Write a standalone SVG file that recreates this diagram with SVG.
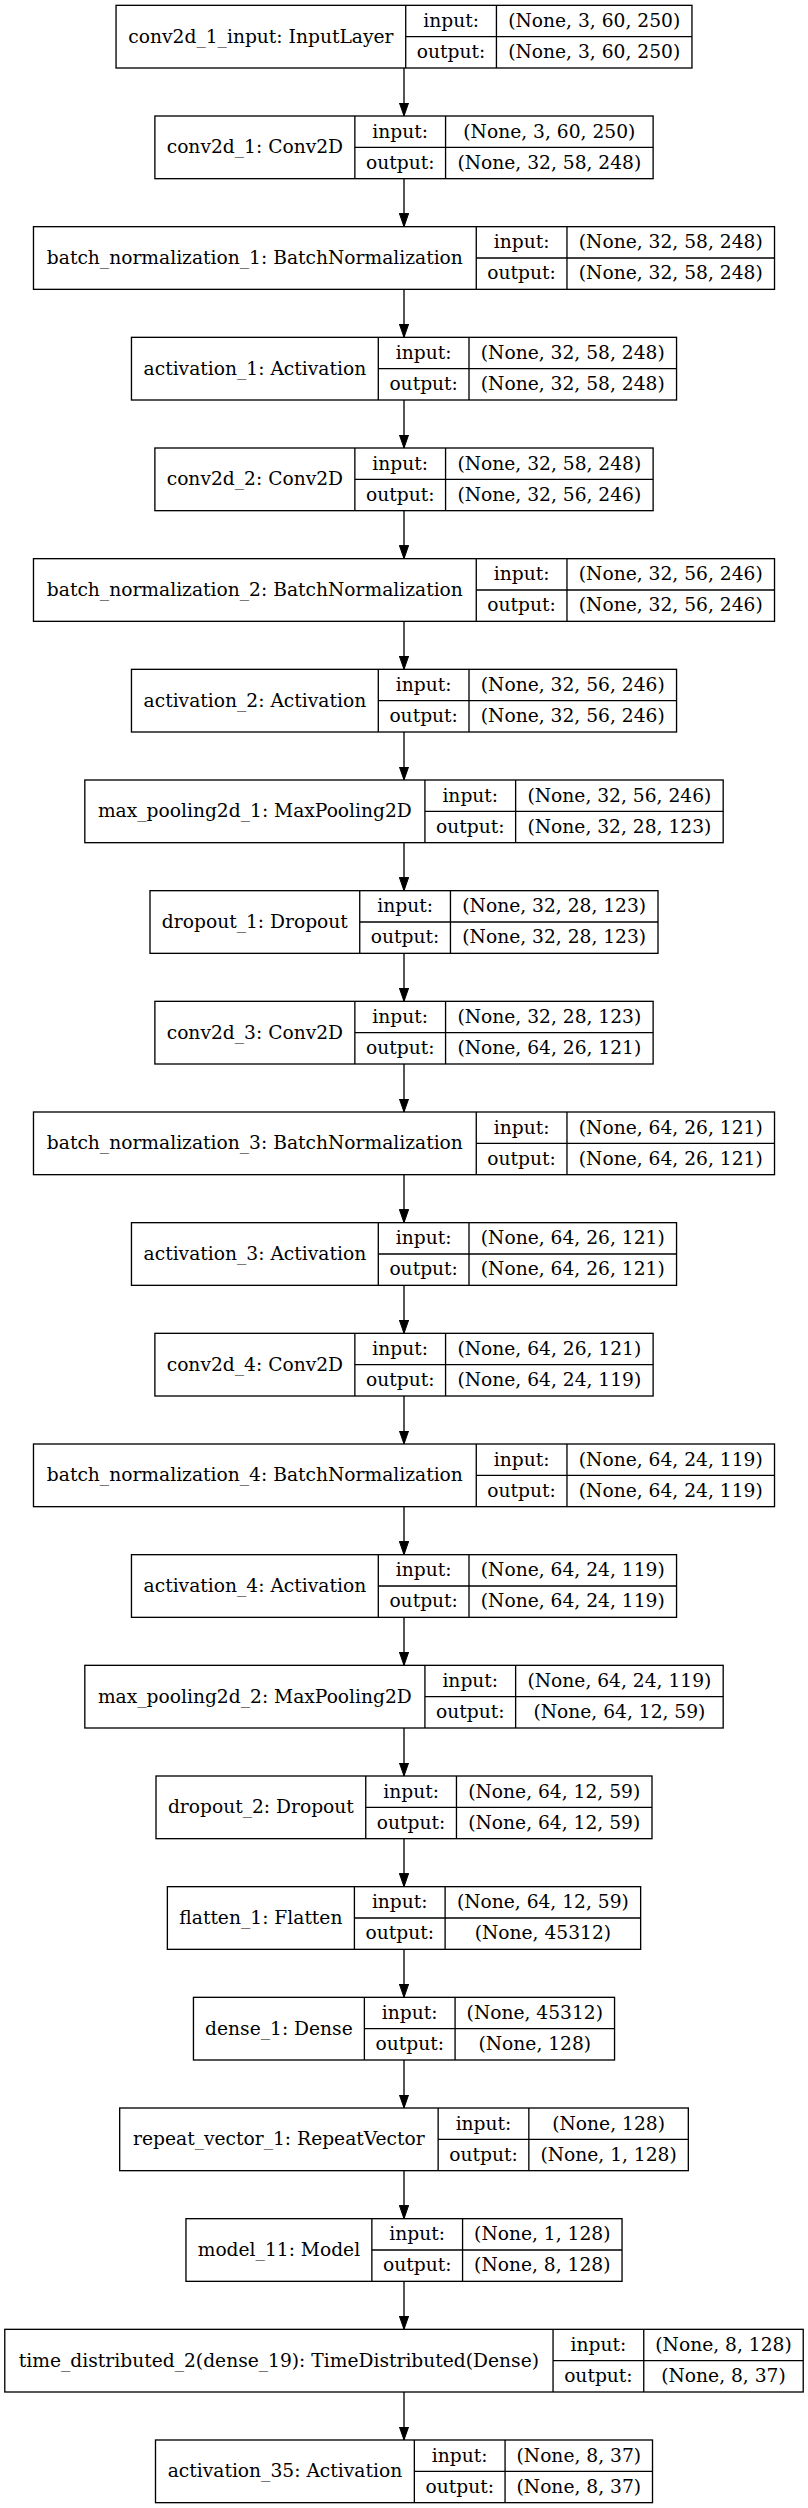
<svg xmlns="http://www.w3.org/2000/svg" width="808" height="2508" viewBox="0 0 808 2508">
<style>
.n rect{fill:#fff;stroke:#000;stroke-width:1.33}
.n line{stroke:#000;stroke-width:1.33}
.n text{font-family:"DejaVu Serif",serif;font-size:18.67px;fill:#000;text-anchor:middle}
.n .l{transform:translateY(-0.8px)}
.e{stroke:#000;stroke-width:1.33;fill:none;marker-end:url(#ah)}
</style>
<defs>
<marker id="ah" markerUnits="userSpaceOnUse" markerWidth="14" markerHeight="10" viewBox="0 0 14 10" refX="13.33" refY="4.67" orient="auto">
<path d="M0,0 L13.33,4.67 L0,9.33 z" fill="#000" stroke="#000" stroke-width="1"/>
</marker>
</defs>
<rect width="808" height="2508" fill="#fff"/>
<g id="edges">
<path class="e" d="M404,68 V116"/>
<path class="e" d="M404,178.67 V226.67"/>
<path class="e" d="M404,289.33 V337.33"/>
<path class="e" d="M404,400 V448"/>
<path class="e" d="M404,510.67 V558.67"/>
<path class="e" d="M404,621.33 V669.33"/>
<path class="e" d="M404,732 V780"/>
<path class="e" d="M404,842.67 V890.67"/>
<path class="e" d="M404,953.33 V1001.33"/>
<path class="e" d="M404,1064 V1112"/>
<path class="e" d="M404,1174.67 V1222.67"/>
<path class="e" d="M404,1285.33 V1333.33"/>
<path class="e" d="M404,1396 V1444"/>
<path class="e" d="M404,1506.67 V1554.67"/>
<path class="e" d="M404,1617.33 V1665.33"/>
<path class="e" d="M404,1728 V1776"/>
<path class="e" d="M404,1838.67 V1886.67"/>
<path class="e" d="M404,1949.33 V1997.33"/>
<path class="e" d="M404,2060 V2108"/>
<path class="e" d="M404,2170.67 V2218.67"/>
<path class="e" d="M404,2281.33 V2329.33"/>
<path class="e" d="M404,2392 V2440"/>
</g>

<g id="conv2d_1_input" class="n" transform="translate(0,5.33)">
<rect x="116.05" y="0" width="575.91" height="62.67"/>
<line x1="405.72" y1="0" x2="405.72" y2="62.67"/><line x1="496.43" y1="0" x2="496.43" y2="62.67"/><line x1="405.72" y1="31.33" x2="691.96" y2="31.33"/>
<text x="260.89" y="37.2">conv2d_1_input: InputLayer</text>
<text x="451.08" y="21.5">input:</text><text x="451.08" y="52.8">output:</text>
<text x="594.2" y="21.5">(None, 3, 60, 250)</text><text x="594.2" y="52.8">(None, 3, 60, 250)</text>
</g>

<g id="conv2d_1" class="n" transform="translate(0,116)">
<rect x="154.89" y="0" width="498.23" height="62.67"/>
<line x1="354.86" y1="0" x2="354.86" y2="62.67"/><line x1="445.57" y1="0" x2="445.57" y2="62.67"/><line x1="354.86" y1="31.33" x2="653.12" y2="31.33"/>
<text x="254.88" y="37.2">conv2d_1: Conv2D</text>
<text x="400.22" y="21.5">input:</text><text x="400.22" y="52.8">output:</text>
<text x="549.35" y="21.5">(None, 3, 60, 250)</text><text x="549.35" y="52.8">(None, 32, 58, 248)</text>
</g>

<g id="batch_normalization_1" class="n" transform="translate(0,226.67)">
<rect x="33.48" y="0" width="741.04" height="62.67"/>
<line x1="476.26" y1="0" x2="476.26" y2="62.67"/><line x1="566.97" y1="0" x2="566.97" y2="62.67"/><line x1="476.26" y1="31.33" x2="774.52" y2="31.33"/>
<text x="254.87" y="37.2">batch_normalization_1: BatchNormalization</text>
<text x="521.62" y="21.5">input:</text><text x="521.62" y="52.8">output:</text>
<text x="670.75" y="21.5">(None, 32, 58, 248)</text><text x="670.75" y="52.8">(None, 32, 58, 248)</text>
</g>

<g id="activation_1" class="n" transform="translate(0,337.33)">
<rect x="131.46" y="0" width="545.09" height="62.67"/>
<line x1="378.29" y1="0" x2="378.29" y2="62.67"/><line x1="469" y1="0" x2="469" y2="62.67"/><line x1="378.29" y1="31.33" x2="676.55" y2="31.33"/>
<text x="254.88" y="37.2">activation_1: Activation</text>
<text x="423.65" y="21.5">input:</text><text x="423.65" y="52.8">output:</text>
<text x="572.78" y="21.5">(None, 32, 58, 248)</text><text x="572.78" y="52.8">(None, 32, 58, 248)</text>
</g>

<g id="conv2d_2" class="n" transform="translate(0,448)">
<rect x="154.89" y="0" width="498.23" height="62.67"/>
<line x1="354.86" y1="0" x2="354.86" y2="62.67"/><line x1="445.57" y1="0" x2="445.57" y2="62.67"/><line x1="354.86" y1="31.33" x2="653.12" y2="31.33"/>
<text x="254.88" y="37.2">conv2d_2: Conv2D</text>
<text x="400.22" y="21.5">input:</text><text x="400.22" y="52.8">output:</text>
<text x="549.35" y="21.5">(None, 32, 58, 248)</text><text x="549.35" y="52.8">(None, 32, 56, 246)</text>
</g>

<g id="batch_normalization_2" class="n" transform="translate(0,558.67)">
<rect x="33.48" y="0" width="741.04" height="62.67"/>
<line x1="476.26" y1="0" x2="476.26" y2="62.67"/><line x1="566.97" y1="0" x2="566.97" y2="62.67"/><line x1="476.26" y1="31.33" x2="774.52" y2="31.33"/>
<text x="254.87" y="37.2">batch_normalization_2: BatchNormalization</text>
<text x="521.62" y="21.5">input:</text><text x="521.62" y="52.8">output:</text>
<text x="670.75" y="21.5">(None, 32, 56, 246)</text><text x="670.75" y="52.8">(None, 32, 56, 246)</text>
</g>

<g id="activation_2" class="n" transform="translate(0,669.33)">
<rect x="131.46" y="0" width="545.09" height="62.67"/>
<line x1="378.29" y1="0" x2="378.29" y2="62.67"/><line x1="469" y1="0" x2="469" y2="62.67"/><line x1="378.29" y1="31.33" x2="676.55" y2="31.33"/>
<text x="254.88" y="37.2">activation_2: Activation</text>
<text x="423.65" y="21.5">input:</text><text x="423.65" y="52.8">output:</text>
<text x="572.78" y="21.5">(None, 32, 56, 246)</text><text x="572.78" y="52.8">(None, 32, 56, 246)</text>
</g>

<g id="max_pooling2d_1" class="n" transform="translate(0,780)">
<rect x="84.82" y="0" width="638.36" height="62.67"/>
<line x1="424.92" y1="0" x2="424.92" y2="62.67"/><line x1="515.63" y1="0" x2="515.63" y2="62.67"/><line x1="424.92" y1="31.33" x2="723.18" y2="31.33"/>
<text x="254.87" y="37.2">max_pooling2d_1: MaxPooling2D</text>
<text x="470.28" y="21.5">input:</text><text x="470.28" y="52.8">output:</text>
<text x="619.41" y="21.5">(None, 32, 56, 246)</text><text x="619.41" y="52.8">(None, 32, 28, 123)</text>
</g>

<g id="dropout_1" class="n" transform="translate(0,890.67)">
<rect x="150" y="0" width="508" height="62.67"/>
<line x1="359.74" y1="0" x2="359.74" y2="62.67"/><line x1="450.45" y1="0" x2="450.45" y2="62.67"/><line x1="359.74" y1="31.33" x2="658" y2="31.33"/>
<text x="254.87" y="37.2">dropout_1: Dropout</text>
<text x="405.1" y="21.5">input:</text><text x="405.1" y="52.8">output:</text>
<text x="554.23" y="21.5">(None, 32, 28, 123)</text><text x="554.23" y="52.8">(None, 32, 28, 123)</text>
</g>

<g id="conv2d_3" class="n" transform="translate(0,1001.33)">
<rect x="154.89" y="0" width="498.23" height="62.67"/>
<line x1="354.86" y1="0" x2="354.86" y2="62.67"/><line x1="445.57" y1="0" x2="445.57" y2="62.67"/><line x1="354.86" y1="31.33" x2="653.12" y2="31.33"/>
<text x="254.88" y="37.2">conv2d_3: Conv2D</text>
<text x="400.22" y="21.5">input:</text><text x="400.22" y="52.8">output:</text>
<text x="549.35" y="21.5">(None, 32, 28, 123)</text><text x="549.35" y="52.8">(None, 64, 26, 121)</text>
</g>

<g id="batch_normalization_3" class="n" transform="translate(0,1112)">
<rect x="33.48" y="0" width="741.04" height="62.67"/>
<line x1="476.26" y1="0" x2="476.26" y2="62.67"/><line x1="566.97" y1="0" x2="566.97" y2="62.67"/><line x1="476.26" y1="31.33" x2="774.52" y2="31.33"/>
<text x="254.87" y="37.2">batch_normalization_3: BatchNormalization</text>
<text x="521.62" y="21.5">input:</text><text x="521.62" y="52.8">output:</text>
<text x="670.75" y="21.5">(None, 64, 26, 121)</text><text x="670.75" y="52.8">(None, 64, 26, 121)</text>
</g>

<g id="activation_3" class="n" transform="translate(0,1222.67)">
<rect x="131.46" y="0" width="545.09" height="62.67"/>
<line x1="378.29" y1="0" x2="378.29" y2="62.67"/><line x1="469" y1="0" x2="469" y2="62.67"/><line x1="378.29" y1="31.33" x2="676.55" y2="31.33"/>
<text x="254.88" y="37.2">activation_3: Activation</text>
<text x="423.65" y="21.5">input:</text><text x="423.65" y="52.8">output:</text>
<text x="572.78" y="21.5">(None, 64, 26, 121)</text><text x="572.78" y="52.8">(None, 64, 26, 121)</text>
</g>

<g id="conv2d_4" class="n" transform="translate(0,1333.33)">
<rect x="154.89" y="0" width="498.23" height="62.67"/>
<line x1="354.86" y1="0" x2="354.86" y2="62.67"/><line x1="445.57" y1="0" x2="445.57" y2="62.67"/><line x1="354.86" y1="31.33" x2="653.12" y2="31.33"/>
<text x="254.88" y="37.2">conv2d_4: Conv2D</text>
<text x="400.22" y="21.5">input:</text><text x="400.22" y="52.8">output:</text>
<text x="549.35" y="21.5">(None, 64, 26, 121)</text><text x="549.35" y="52.8">(None, 64, 24, 119)</text>
</g>

<g id="batch_normalization_4" class="n" transform="translate(0,1444)">
<rect x="33.48" y="0" width="741.04" height="62.67"/>
<line x1="476.26" y1="0" x2="476.26" y2="62.67"/><line x1="566.97" y1="0" x2="566.97" y2="62.67"/><line x1="476.26" y1="31.33" x2="774.52" y2="31.33"/>
<text x="254.87" y="37.2">batch_normalization_4: BatchNormalization</text>
<text x="521.62" y="21.5">input:</text><text x="521.62" y="52.8">output:</text>
<text x="670.75" y="21.5">(None, 64, 24, 119)</text><text x="670.75" y="52.8">(None, 64, 24, 119)</text>
</g>

<g id="activation_4" class="n" transform="translate(0,1554.67)">
<rect x="131.46" y="0" width="545.09" height="62.67"/>
<line x1="378.29" y1="0" x2="378.29" y2="62.67"/><line x1="469" y1="0" x2="469" y2="62.67"/><line x1="378.29" y1="31.33" x2="676.55" y2="31.33"/>
<text x="254.88" y="37.2">activation_4: Activation</text>
<text x="423.65" y="21.5">input:</text><text x="423.65" y="52.8">output:</text>
<text x="572.78" y="21.5">(None, 64, 24, 119)</text><text x="572.78" y="52.8">(None, 64, 24, 119)</text>
</g>

<g id="max_pooling2d_2" class="n" transform="translate(0,1665.33)">
<rect x="84.82" y="0" width="638.36" height="62.67"/>
<line x1="424.92" y1="0" x2="424.92" y2="62.67"/><line x1="515.63" y1="0" x2="515.63" y2="62.67"/><line x1="424.92" y1="31.33" x2="723.18" y2="31.33"/>
<text x="254.87" y="37.2">max_pooling2d_2: MaxPooling2D</text>
<text x="470.28" y="21.5">input:</text><text x="470.28" y="52.8">output:</text>
<text x="619.41" y="21.5">(None, 64, 24, 119)</text><text x="619.41" y="52.8">(None, 64, 12, 59)</text>
</g>

<g id="dropout_2" class="n" transform="translate(0,1776)">
<rect x="156.01" y="0" width="495.98" height="62.67"/>
<line x1="365.75" y1="0" x2="365.75" y2="62.67"/><line x1="456.46" y1="0" x2="456.46" y2="62.67"/><line x1="365.75" y1="31.33" x2="651.99" y2="31.33"/>
<text x="260.88" y="37.2">dropout_2: Dropout</text>
<text x="411.11" y="21.5">input:</text><text x="411.11" y="52.8">output:</text>
<text x="554.23" y="21.5">(None, 64, 12, 59)</text><text x="554.23" y="52.8">(None, 64, 12, 59)</text>
</g>

<g id="flatten_1" class="n" transform="translate(0,1886.67)">
<rect x="167.37" y="0" width="473.27" height="62.67"/>
<line x1="354.4" y1="0" x2="354.4" y2="62.67"/><line x1="445.11" y1="0" x2="445.11" y2="62.67"/><line x1="354.4" y1="31.33" x2="640.64" y2="31.33"/>
<text x="260.89" y="37.2">flatten_1: Flatten</text>
<text x="399.76" y="21.5">input:</text><text x="399.76" y="52.8">output:</text>
<text x="542.88" y="21.5">(None, 64, 12, 59)</text><text x="542.88" y="52.8">(None, 45312)</text>
</g>

<g id="dense_1" class="n" transform="translate(0,1997.33)">
<rect x="193.45" y="0" width="421.1" height="62.67"/>
<line x1="364.37" y1="0" x2="364.37" y2="62.67"/><line x1="455.08" y1="0" x2="455.08" y2="62.67"/><line x1="364.37" y1="31.33" x2="614.55" y2="31.33"/>
<text x="278.91" y="37.2">dense_1: Dense</text>
<text x="409.73" y="21.5">input:</text><text x="409.73" y="52.8">output:</text>
<text x="534.82" y="21.5">(None, 45312)</text><text x="534.82" y="52.8">(None, 128)</text>
</g>

<g id="repeat_vector_1" class="n" transform="translate(0,2108)">
<rect x="119.68" y="0" width="568.64" height="62.67"/>
<line x1="438.14" y1="0" x2="438.14" y2="62.67"/><line x1="528.85" y1="0" x2="528.85" y2="62.67"/><line x1="438.14" y1="31.33" x2="688.32" y2="31.33"/>
<text x="278.91" y="37.2">repeat_vector_1: RepeatVector</text>
<text x="483.5" y="21.5">input:</text><text x="483.5" y="52.8">output:</text>
<text x="608.59" y="21.5">(None, 128)</text><text x="608.59" y="52.8">(None, 1, 128)</text>
</g>

<g id="model_11" class="n" transform="translate(0,2218.67)">
<rect x="185.97" y="0" width="436.07" height="62.67"/>
<line x1="371.86" y1="0" x2="371.86" y2="62.67"/><line x1="462.57" y1="0" x2="462.57" y2="62.67"/><line x1="371.86" y1="31.33" x2="622.04" y2="31.33"/>
<text x="278.92" y="37.2">model_11: Model</text>
<text x="417.22" y="21.5">input:</text><text x="417.22" y="52.8">output:</text>
<text x="542.31" y="21.5">(None, 1, 128)</text><text x="542.31" y="52.8">(None, 8, 128)</text>
</g>

<g id="time_distributed_2" class="n" transform="translate(0,2329.33)">
<rect x="4.78" y="0" width="798.44" height="62.67"/>
<line x1="553.04" y1="0" x2="553.04" y2="62.67"/><line x1="643.75" y1="0" x2="643.75" y2="62.67"/><line x1="553.04" y1="31.33" x2="803.22" y2="31.33"/>
<text x="278.91" y="37.2">time_distributed_2(dense_19): TimeDistributed(Dense)</text>
<text x="598.4" y="21.5">input:</text><text x="598.4" y="52.8">output:</text>
<text x="723.49" y="21.5">(None, 8, 128)</text><text x="723.49" y="52.8">(None, 8, 37)</text>
</g>

<g id="activation_35" class="n" transform="translate(0,2440)">
<rect x="155.5" y="0" width="497.01" height="62.67"/>
<line x1="414.35" y1="0" x2="414.35" y2="62.67"/><line x1="505.06" y1="0" x2="505.06" y2="62.67"/><line x1="414.35" y1="31.33" x2="652.51" y2="31.33"/>
<text x="284.93" y="37.2">activation_35: Activation</text>
<text x="459.71" y="21.5">input:</text><text x="459.71" y="52.8">output:</text>
<text x="578.79" y="21.5">(None, 8, 37)</text><text x="578.79" y="52.8">(None, 8, 37)</text>
</g>
</svg>
